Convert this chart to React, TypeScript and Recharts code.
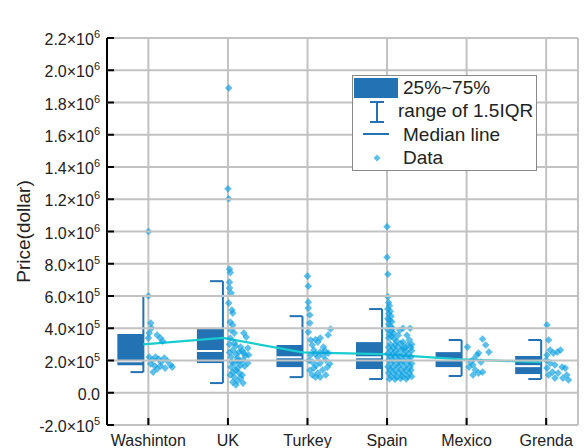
import React from 'react';
import {
  ComposedChart,
  XAxis,
  YAxis,
  CartesianGrid,
  Scatter,
  Line,
  ReferenceArea,
  ReferenceLine,
  Legend,
} from 'recharts';

const FONT = "'Liberation Sans', Arial, Helvetica, sans-serif";
const BOX = '#2372b4';
const MEAN = '#19cccf';
const DOT = '#09a0e0';
const TXT = '#222';
const GRID = '#c2c2c2';

// ---- data ----
const categories = ['Washinton', 'UK', 'Turkey', 'Spain', 'Mexico', 'Grenda'];
const q1 = [170000, 184000, 159000, 147000, 159000, 116000];
const medians = [195000, 259000, 220000, 220000, 208000, 165000];
const q3 = [364000, 395000, 296000, 314000, 252000, 228000];
const whiskerLow = [128000, 60000, 97000, 85000, 104000, 85000];
const whiskerHigh = [600000, 692000, 475000, 519000, 327000, 327000];
const means = [300000, 340000, 250000, 240000, 207000, 190000];
const yTicks = [-200000, 0, 200000, 400000, 600000, 800000, 1000000, 1200000, 1400000, 1600000, 1800000, 2000000, 2200000];

// [offset to the right of the category, price]
const washintonPts = [
  [0, 1000000], [0, 600000], [0.03, 432000], [0.04, 401000], [0.01, 370000], [0.0, 339000],
  [0.11, 358000], [0.15, 339000], [0.18, 320000], [0.01, 221000], [0.05, 203000], [0.09, 221000],
  [0.13, 209000], [0.16, 190000], [0.2, 215000], [0.24, 197000], [0.28, 172000], [0.3, 159000],
  [0.03, 178000], [0.08, 166000], [0.11, 147000], [0.06, 128000], [0.21, 153000], [0.15, 166000],
];
const ukPts = [
  [0.01, 1890000], [0.0, 1265000], [0.01, 1203000], [0.02, 767000], [0.03, 745000], [0.02, 686000],
  [0.02, 649000], [0.04, 618000], [0.01, 556000], [0.05, 513000], [0.06, 494000], [0.03, 438000],
  [0.06, 420000], [0.04, 389000], [0.08, 370000], [0.2, 370000], [0.23, 345000], [0.03, 339000],
  [0.08, 308000], [0.16, 283000], [0.25, 277000], [0.06, 265000], [0.14, 252000], [0.2, 246000],
  [0.26, 234000], [0.04, 221000], [0.12, 215000], [0.19, 203000], [0.08, 184000], [0.16, 172000],
  [0.25, 184000], [0.04, 159000], [0.12, 153000], [0.06, 128000], [0.14, 122000], [0.08, 97000],
  [0.16, 91000], [0.06, 66000], [0.12, 73000], [0.19, 60000], [0.1, 48000], [0.02, 300000],
  [0.1, 290000], [0.18, 260000], [0.22, 230000], [0.1, 240000], [0.02, 250000], [0.15, 195000],
  [0.21, 165000], [0.1, 140000], [0.18, 110000], [0.03, 110000], [0.12, 200000], [0.05, 190000],
];
const turkeyPts = [
  [0.0, 723000], [0.01, 661000], [0.01, 562000], [0.01, 525000], [0.03, 482000], [0.03, 432000],
  [0.01, 376000], [0.29, 395000], [0.26, 358000], [0.16, 339000], [0.04, 327000], [0.13, 314000],
  [0.06, 296000], [0.2, 283000], [0.08, 265000], [0.16, 252000], [0.26, 246000], [0.04, 234000],
  [0.13, 221000], [0.23, 203000], [0.06, 190000], [0.16, 184000], [0.25, 159000], [0.08, 153000],
  [0.19, 141000], [0.13, 122000], [0.23, 110000], [0.06, 110000], [0.16, 97000], [0.1, 97000],
  [0.1, 240000], [0.2, 230000], [0.02, 200000], [0.11, 170000], [0.03, 140000], [0.28, 180000],
  [0.22, 260000], [0.1, 330000],
];
const spainPts = [
  [0.0, 1030000], [0.0, 840000], [0.01, 735000], [0.01, 595000],
  [0.02, 560000], [0.03, 540000], [0.01, 520000], [0.04, 505000], [0.02, 490000], [0.05, 475000],
  [0.01, 460000], [0.03, 450000], [0.06, 440000], [0.02, 425000], [0.04, 410000], [0.07, 400000],
  [0.01, 390000], [0.05, 380000], [0.08, 370000], [0.03, 360000], [0.06, 350000], [0.02, 340000],
  [0.09, 335000], [0.16, 388000], [0.2, 400000], [0.29, 400000], [0.25, 357000], [0.14, 357000],
  [0.2, 314000], [0.28, 327000], [0.23, 280000], [0.31, 300000], [0.12, 320000],
  [0.04, 302000], [0.1, 298000], [0.17, 305000], [0.26, 296000],
  [0.02, 282000], [0.08, 278000], [0.14, 284000], [0.2, 276000], [0.3, 281000],
  [0.05, 262000], [0.11, 258000], [0.18, 264000], [0.24, 259000], [0.31, 261000],
  [0.01, 243000], [0.07, 238000], [0.13, 242000], [0.21, 237000], [0.27, 241000],
  [0.04, 222000], [0.1, 218000], [0.16, 224000], [0.23, 219000], [0.3, 221000],
  [0.02, 203000], [0.08, 198000], [0.15, 202000], [0.2, 197000], [0.28, 201000],
  [0.05, 183000], [0.12, 178000], [0.18, 182000], [0.25, 179000], [0.31, 181000],
  [0.01, 162000], [0.07, 158000], [0.14, 163000], [0.22, 157000], [0.29, 161000],
  [0.04, 142000], [0.1, 138000], [0.17, 143000], [0.24, 139000], [0.3, 141000],
  [0.02, 122000], [0.09, 118000], [0.15, 123000], [0.21, 119000], [0.28, 121000],
  [0.05, 102000], [0.12, 98000], [0.19, 103000], [0.26, 99000], [0.31, 101000],
  [0.03, 86000], [0.1, 84000], [0.17, 88000], [0.24, 85000],
];
const mexicoPts = [
  [0.01, 283000], [0.2, 333000], [0.24, 296000], [0.28, 252000], [0.15, 246000], [0.13, 234000],
  [0.09, 209000], [0.05, 190000], [0.18, 190000], [0.08, 172000], [0.03, 159000], [0.11, 141000],
  [0.2, 128000], [0.15, 122000], [0.08, 110000],
];
const grendaPts = [
  [0.01, 420000], [0.03, 327000], [0.05, 265000], [0.14, 252000], [0.18, 265000], [0.09, 246000],
  [0.01, 234000], [0.0, 203000], [0.05, 184000], [0.11, 172000], [0.2, 159000], [0.24, 153000],
  [0.01, 153000], [0.08, 128000], [0.15, 122000], [0.26, 110000], [0.03, 110000], [0.11, 91000],
  [0.21, 91000], [0.28, 79000],
];
const pointsByCategory = [washintonPts, ukPts, turkeyPts, spainPts, mexicoPts, grendaPts];

// ---- derived ----
const catIdx = categories.map((_, i) => i + 1);
const X_DOMAIN: [number, number] = [0.48, 6.4];
const Y_DOMAIN: [number, number] = [-200000, 2200000];
const BOX_L = -0.39;
const BOX_R = -0.063;
const CAP_L = -0.225;

const scatterData = pointsByCategory.flatMap((pts, i) =>
  pts.map(([dx, v]) => ({ x: i + 1 + dx, y: v }))
);
const meanData = means.map((m, i) => ({ x: i + 1 + BOX_R, y: m }));

function sciParts(v: number) {
  if (v === 0) return null;
  const e = Math.floor(Math.log10(Math.abs(v)) + 1e-9);
  const m = (v / Math.pow(10, e)).toFixed(1);
  return { m, e };
}

// The left-axis tick also draws the horizontal grid line across the plot (plotWidth passed in).
const YTick = (props: any) => {
  const { x, y, payload, plotWidth } = props;
  const p = sciParts(payload.value);
  const left = x + 7;
  return (
    <g>
      <line x1={left} x2={left + plotWidth} y1={y} y2={y} stroke={GRID} strokeWidth={2} />
      <line x1={left} x2={left + 7} y1={y} y2={y} stroke="#000" strokeWidth={2} />
      <text x={x} y={y + 7} textAnchor="end" fontFamily={FONT} fontSize={16} fill={TXT}>
        {p ? (
          <>
            <tspan>{p.m}×10</tspan>
            <tspan dy={-7} fontSize={11}>{p.e}</tspan>
          </>
        ) : (
          '0.0'
        )}
      </text>
    </g>
  );
};

const XTick = (props: any) => {
  const { x, y, payload } = props;
  const idx = Math.round(payload.value) - 1;
  return (
    <g>
      <line x1={x} x2={x} y1={y - 4} y2={y - 11} stroke="#000" strokeWidth={2} />
      <text x={x} y={y + 17} textAnchor="middle" fontFamily={FONT} fontSize={16} fill={TXT}>
        {categories[idx]}
      </text>
    </g>
  );
};

const EmptyTick = () => <g />;

const Diamond = (p: any) => {
  const { cx, cy } = p;
  const r = 3.8;
  return (
    <polygon
      points={`${cx},${cy - r} ${cx + r},${cy} ${cx},${cy + r} ${cx - r},${cy}`}
      fill={DOT}
      fillOpacity={0.66}
    />
  );
};

const LegendBox = () => (
  <svg width={185} height={96} style={{ display: 'block' }}>
    <rect x={0.5} y={0.5} width={184} height={95} fill="#fff" stroke="#888" strokeWidth={1} />
    <rect x={2} y={3} width={44} height={20} fill={BOX} />
    <text x={51} y={19} fontFamily={FONT} fontSize={19} fill={TXT}>25%~75%</text>
    <line x1={25} x2={25} y1={27} y2={47} stroke={BOX} strokeWidth={2} />
    <line x1={18} x2={32} y1={27} y2={27} stroke={BOX} strokeWidth={2} />
    <line x1={18} x2={32} y1={47} y2={47} stroke={BOX} strokeWidth={2} />
    <text x={46} y={42} fontFamily={FONT} fontSize={19} fill={TXT}>range of 1.5IQR</text>
    <line x1={11} x2={37} y1={59} y2={59} stroke={BOX} strokeWidth={2} />
    <text x={51} y={66} fontFamily={FONT} fontSize={19} fill={TXT}>Median line</text>
    <polygon points="25,79.5 28.5,83 25,86.5 21.5,83" fill="#5cc0ec" />
    <text x={51} y={89} fontFamily={FONT} fontSize={19} fill={TXT}>Data</text>
  </svg>
);

const titleLabel = (props: any) => {
  const vb = props.viewBox || { x: 107, width: 471 };
  return (
    <text x={vb.x + vb.width / 2} y={23} textAnchor="middle" fontFamily={FONT} fontSize={19} fill={TXT}>
      Catamarans
    </text>
  );
};

const yLabel = (props: any) => {
  const vb = props.viewBox || { y: 38, height: 387 };
  const cy = vb.y + vb.height / 2;
  return (
    <text
      x={23}
      y={cy}
      transform={`rotate(-90 23 ${cy})`}
      textAnchor="middle"
      dominantBaseline="central"
      fontFamily={FONT}
      fontSize={19}
      fill={TXT}
    >
      Price(dollar)
    </text>
  );
};

const CHART_W = 588;
const CHART_H = 448;
const MARGIN = { top: 38, right: 10, bottom: 0, left: 0 };
const Y_AXIS_W = 107;
const PLOT_W = CHART_W - MARGIN.left - MARGIN.right - Y_AXIS_W;

export default function App() {
  const axisStyle = { stroke: '#000', strokeWidth: 2 };
  const leftAxisExtra: any = { zIndex: -50 };
  return (
    <div style={{ position: 'absolute', left: 0, top: 0, width: CHART_W, height: CHART_H, background: '#fff' }}>
      <ComposedChart width={CHART_W} height={CHART_H} margin={MARGIN}>
        <CartesianGrid stroke={GRID} strokeWidth={2} strokeOpacity={1} horizontal={false} vertical />
        <YAxis
          yAxisId={0}
          dataKey="y"
          type="number"
          domain={Y_DOMAIN}
          ticks={yTicks}
          allowDataOverflow
          interval={0}
          width={Y_AXIS_W}
          tickSize={0}
          tickMargin={7}
          tickLine={false}
          tick={<YTick plotWidth={PLOT_W} />}
          axisLine={axisStyle}
          label={yLabel}
          {...leftAxisExtra}
        />
        <XAxis
          xAxisId={0}
          dataKey="x"
          type="number"
          domain={X_DOMAIN}
          ticks={catIdx}
          allowDataOverflow
          interval={0}
          height={23}
          tickSize={0}
          tickMargin={4}
          tickLine={false}
          tick={<XTick />}
          axisLine={axisStyle}
        />
        <XAxis
          xAxisId="top"
          orientation="top"
          type="number"
          domain={X_DOMAIN}
          ticks={catIdx}
          allowDataOverflow
          interval={0}
          height={0}
          mirror
          tickSize={7}
          tick={<EmptyTick />}
          tickLine={axisStyle}
          axisLine={axisStyle}
          label={titleLabel}
        />
        <YAxis
          yAxisId="right"
          orientation="right"
          type="number"
          domain={Y_DOMAIN}
          ticks={yTicks}
          allowDataOverflow
          interval={0}
          width={0}
          mirror
          tickSize={7}
          tick={<EmptyTick />}
          tickLine={axisStyle}
          axisLine={axisStyle}
        />
        {categories.map((c, i) => {
          const cx = i + 1;
          return [
            <ReferenceArea
              key={`box-${c}`}
              x1={cx + BOX_L}
              x2={cx + BOX_R}
              y1={q1[i]}
              y2={q3[i]}
              fill={BOX}
              fillOpacity={1}
              stroke="none"
            />,
            <ReferenceLine
              key={`med-${c}`}
              segment={[{ x: cx + BOX_L, y: medians[i] }, { x: cx + BOX_R, y: medians[i] }]}
              stroke="#fff"
              strokeWidth={2}
            />,
            <ReferenceLine
              key={`wv-${c}`}
              segment={[{ x: cx + BOX_R, y: whiskerLow[i] }, { x: cx + BOX_R, y: whiskerHigh[i] }]}
              stroke={BOX}
              strokeWidth={2}
            />,
            <ReferenceLine
              key={`wl-${c}`}
              segment={[{ x: cx + CAP_L, y: whiskerLow[i] }, { x: cx + BOX_R, y: whiskerLow[i] }]}
              stroke={BOX}
              strokeWidth={2}
            />,
            <ReferenceLine
              key={`wh-${c}`}
              segment={[{ x: cx + CAP_L, y: whiskerHigh[i] }, { x: cx + BOX_R, y: whiskerHigh[i] }]}
              stroke={BOX}
              strokeWidth={2}
            />,
          ];
        })}
        <Scatter data={scatterData} dataKey="y" shape={<Diamond />} isAnimationActive={false} />
        <Line
          data={meanData}
          dataKey="y"
          type="linear"
          stroke={MEAN}
          strokeWidth={2.2}
          dot={false}
          activeDot={false}
          isAnimationActive={false}
        />
        <Legend
          layout="vertical"
          align="center"
          verticalAlign="middle"
          wrapperStyle={{ position: 'absolute', left: 352, top: 75, width: 185, height: 96 }}
          content={() => <LegendBox />}
        />
      </ComposedChart>
    </div>
  );
}
